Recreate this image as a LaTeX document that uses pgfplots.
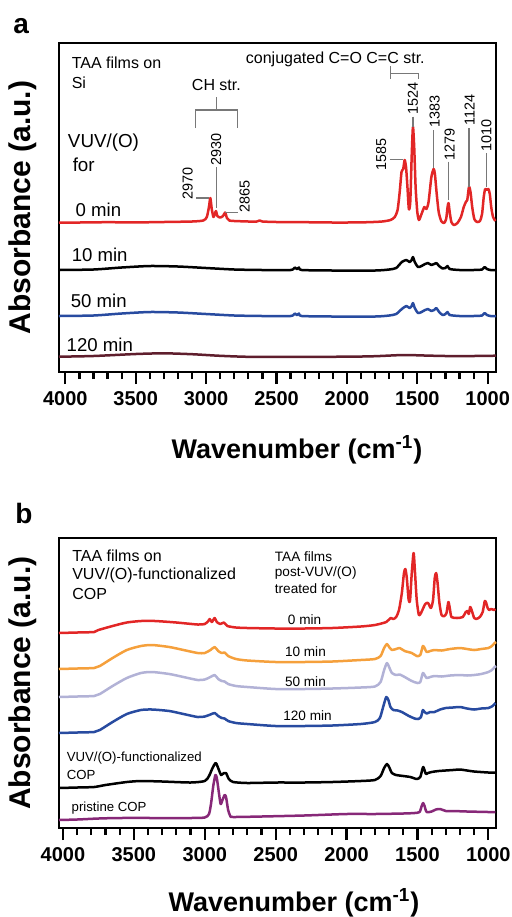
\documentclass[border=0pt]{standalone}
\usepackage{fontspec}
\setmainfont{Liberation Sans}
\usepackage{pgfplots}
\pgfplotsset{compat=1.18}

\definecolor{cred}{RGB}{226,38,38}
\definecolor{corange}{RGB}{245,160,60}
\definecolor{clav}{RGB}{178,178,214}
\definecolor{cblue}{RGB}{40,75,160}
\definecolor{cpurple}{RGB}{135,40,120}
\definecolor{cmaroon}{RGB}{95,30,45}
\definecolor{annot}{RGB}{120,120,120}

\newcommand{\fsz}[1]{\fontsize{#1}{#1}\selectfont}

\pgfplotsset{
  spec/.style={
    scale only axis, x dir=reverse, ymin=0, clip=false,
    axis line style={line width=1pt},
    xtick={1000,1500,...,4000}, minor x tick num=4,
    xtick pos=bottom, ytick=\empty, tick align=outside,
    major tick length=6pt, minor tick length=3.5pt,
    tick style={line width=1.1pt, black},
    /pgf/number format/assume math mode=true,
    /pgf/number format/1000 sep={},
    xticklabel style={font=\fsz{10}\bfseries},
    every axis plot/.append style={line width=1.25pt, line join=round, smooth, tension=0.4},
  },
}

\begin{document}
\begin{tikzpicture}
\useasboundingbox (0,0) rectangle (256pt,-458.5pt);

% ---------------- panel a ----------------
\begin{axis}[spec, at={(29.5pt,-186pt)}, anchor=south west,
  width=218.5pt, height=164.5pt, xmin=941, xmax=4045, ymax=329]

\addplot[cred] coordinates {
(4045,149.3)(3900,149.5)(3700,149.8)(3500,149.6)(3300,150)(3100,150.5)(3020,151.5)
(2995,155)(2980,165)(2970,174)(2960,163)(2948,155)(2938,158)(2930,161)(2920,156)
(2900,154.5)(2880,156)(2865,159.5)(2852,154)(2835,151.5)(2800,151)(2700,150.5)
(2640,150.5)(2620,151.5)(2600,150.5)(2500,150)(2300,149.8)(2100,149.5)(2000,149.5)
(1850,149.8)(1750,150.5)(1690,152)(1660,155)(1640,162)(1625,180)(1612,200)(1600,203)
(1590,212)(1580,205)(1570,185)(1560,163)(1550,170)(1540,215)(1531,245)(1522,225)
(1512,185)(1500,160)(1488,152)(1470,158)(1450,165)(1435,163)(1420,170)(1400,195)
(1384,203)(1375,198)(1362,178)(1348,160)(1330,151)(1310,149)(1295,153)(1285,165)
(1278,169)(1270,160)(1258,150)(1240,147)(1215,149)(1190,155)(1170,165)(1155,170)
(1145,172)(1133,185)(1122,180)(1110,165)(1095,153)(1075,150)(1055,151)(1040,158)
(1028,175)(1018,183)(1005,182)(995,183)(985,178)(975,165)(962,155)(945,151)};

\addplot[black] coordinates {
(4045,102)(3800,102.5)(3600,104.5)(3400,106)(3200,105.5)(3000,104)(2800,102.5)
(2600,102)(2400,102)(2370,104.5)(2355,103)(2340,104.5)(2320,102)(2100,101.5)
(1800,101.5)(1700,102.5)(1650,104)(1610,110)(1578,112)(1555,110)(1540,112)
(1531,115)(1518,110)(1495,105)(1470,106)(1445,108)(1425,109)(1400,107)(1380,108)
(1365,109)(1345,106)(1320,103.5)(1300,104)(1285,106)(1270,103)(1200,102)(1100,102)
(1040,102.5)(1022,105)(1005,103)(980,102)(941,102)};

\addplot[cblue] coordinates {
(4045,56)(3800,56.5)(3600,58.5)(3400,60)(3200,59.5)(3000,58)(2800,56.5)(2600,56)
(2400,56)(2370,58.5)(2355,57)(2340,58.5)(2320,56)(2100,55.5)(1800,55.5)(1700,56.5)
(1650,58)(1610,63)(1578,66)(1555,64)(1540,66)(1531,69)(1518,64)(1495,59)(1470,60)
(1445,62)(1425,63)(1400,61)(1380,62)(1365,64)(1345,60)(1320,57)(1300,58)(1285,60)
(1270,57)(1200,56)(1100,56)(1040,56.5)(1022,59)(1005,57)(980,56)(941,56)};

\addplot[cmaroon] coordinates {
(4045,15.3)(3800,16)(3500,18)(3300,18.7)(3100,17.8)(2900,16.2)(2700,15.2)(2400,15.2)
(2000,15.3)(1800,15.8)(1600,17)(1450,16.5)(1300,16)(1100,16)(941,16.3)};

% annotations
\begin{scope}[annot, line width=0.6pt]
\draw (3069,174) -- (2976,174);
\draw (2927,205) -- (2927,164);
\draw (2863,159.3) -- (2775,159.3);
\draw (3076,244) -- (3076,262) -- (2777,262) -- (2777,244);
\draw (2927,262) -- (2927,275);
\draw (1690,306) -- (1690,293);
\draw (1690,298.5) -- (1490,298.5) -- (1490,293);
\draw (1697,212.7) -- (1602,212.7);
\draw (1531,255.3) -- (1531,244.7);
\draw (1384,242) -- (1384,203.7);
\draw (1277,210.3) -- (1277,172);
\draw (1133,243.7) -- (1133,185.3);
\draw (1009,218.7) -- (1009,185.3);
\end{scope}
\begin{scope}[every node/.style={rotate=90, font=\fsz{7.2}, inner sep=0pt}]
\node at (3131,188.7) {2970};
\node at (2929,223) {2930};
\node at (2727,175.3) {2865};
\node at (1756,218) {1585};
\node at (1531,273.7) {1524};
\node at (1377,260.3) {1383};
\node at (1270,228) {1279};
\node at (1128,262) {1124};
\node at (1009,237) {1010};
\end{scope}
\node[font=\fsz{8}] at (2927,287) {CH str.};
\node[font=\fsz{8}, anchor=west, inner sep=0pt] at (2720,313) {conjugated C=O C=C str.};
\node[font=\fsz{8}, anchor=west, inner sep=0pt] at (3957,309) {TAA films on};
\node[font=\fsz{8}, anchor=west, inner sep=0pt] at (3957,289) {Si};
\node[font=\fsz{9.4}, anchor=west, inner sep=0pt] at (3984,229) {VUV/(O)};
\node[font=\fsz{9.4}, anchor=west, inner sep=0pt] at (3950,207) {for};
\node[font=\fsz{9.3}, anchor=west, inner sep=0pt] at (3929,162) {0 min};
\node[font=\fsz{9.3}, anchor=west, inner sep=0pt] at (3957,117) {10 min};
\node[font=\fsz{9.3}, anchor=west, inner sep=0pt] at (3964,71.3) {50 min};
\node[font=\fsz{9.3}, anchor=west, inner sep=0pt] at (3993,27) {120 min};
\end{axis}

% ---------------- panel b ----------------
\begin{axis}[spec, at={(29.5pt,-414pt)}, anchor=south west,
  width=218.5pt, height=145pt, xmin=946, xmax=4028, ymax=290]

\addplot[cred] coordinates {
(4028,195)(3900,195.5)(3780,196)(3750,198)(3650,202)(3550,205.5)(3450,207)(3350,207)
(3200,205.5)(3050,203.5)(3000,204)(2975,207)(2965,209)(2950,206)(2930,210)(2915,206)
(2890,204)(2865,205.5)(2840,202)(2780,200.5)(2700,200)(2500,199.5)(2300,199.5)
(2100,200)(1900,201.5)(1800,203)(1720,206)(1690,210)(1670,209)(1650,211)(1630,218)
(1610,235)(1595,255)(1585,259)(1575,250)(1562,228)(1552,228)(1540,255)(1527,275)
(1517,255)(1505,228)(1490,213)(1475,215)(1445,224)(1425,225)(1405,220)(1390,228)
(1378,250)(1368,255)(1358,245)(1345,225)(1330,213)(1310,212)(1295,215)(1282,226)
(1272,220)(1260,211)(1220,210)(1180,211)(1160,216)(1148,217)(1138,214)(1128,221)
(1118,218)(1100,210)(1085,209)(1060,211)(1040,216)(1025,227)(1015,225)(1005,220)
(995,218)(980,219)(960,218)(950,219)};

\addplot[corange] coordinates {
(4028,159)(3900,159.5)(3780,160)(3740,162)(3650,170)(3550,178)(3450,182)(3370,183)
(3250,181)(3150,178)(3050,175)(3000,175)(2960,178)(2930,181)(2905,177)(2880,175)
(2860,175.5)(2835,172)(2780,169)(2700,167.5)(2500,166)(2300,166)(2100,166.5)
(1900,168)(1800,169)(1760,172)(1735,180)(1715,184)(1695,180)(1680,178)(1650,179)
(1625,180)(1590,177)(1540,175)(1505,172)(1480,173)(1462,182)(1450,180)(1435,176)
(1410,177)(1380,178)(1330,177.5)(1270,179)(1200,180)(1150,179)(1100,178)(1050,179)
(1000,180)(975,182)(955,185)(946,186)};

\addplot[clav] coordinates {
(4028,131)(3900,131.5)(3780,132)(3740,134)(3650,142)(3550,150)(3450,155)(3370,156)
(3250,154)(3150,151)(3050,148)(3000,148.5)(2960,151)(2930,153)(2905,149)(2880,147)
(2860,146.5)(2835,144)(2780,142)(2700,141)(2500,139)(2300,139)(2100,139.5)
(1900,140.5)(1800,141.5)(1760,146)(1735,158)(1715,165)(1700,161)(1680,155)(1650,153)
(1625,153.5)(1590,151)(1540,147)(1500,145)(1480,146)(1462,155)(1450,153)(1435,150)
(1410,151)(1380,152)(1330,151.5)(1270,152.5)(1200,153)(1150,152.5)(1100,153)
(1050,154)(1000,156)(975,158)(955,161)(946,162)};

\addplot[cblue] coordinates {
(4028,95)(3900,95.5)(3780,96)(3740,98)(3650,106)(3550,114)(3450,118)(3370,118.5)
(3250,117)(3150,114)(3050,111)(3000,111.5)(2960,113.5)(2930,115)(2905,112)(2880,110)
(2860,109.5)(2835,107)(2780,105)(2700,104)(2500,102)(2300,102)(2100,102.5)(1900,104)
(1800,106)(1765,110)(1740,122)(1720,131)(1705,128)(1690,121)(1670,118)(1640,117.5)
(1610,116)(1560,112)(1520,109.5)(1495,109)(1475,111)(1462,118)(1450,116)(1435,114.5)
(1410,116)(1380,116)(1340,118.5)(1300,120)(1250,120.5)(1200,121)(1150,119.5)
(1100,118.5)(1050,119.5)(1000,120)(970,122)(950,125)};

\addplot[black] coordinates {
(4028,40)(3900,40.5)(3780,41)(3700,43)(3550,46)(3450,47)(3300,46.5)(3100,45.5)
(3000,47)(2970,52)(2945,60)(2922,65)(2900,58)(2885,53)(2865,55)(2850,55)(2830,49)
(2800,46)(2700,45)(2500,45.5)(2300,45.5)(2100,46)(1900,47)(1800,48)(1760,52)
(1735,60)(1715,64)(1700,61)(1680,55)(1650,53)(1600,52)(1550,51)(1505,49)(1480,51)
(1465,59)(1458,61)(1448,57)(1440,54)(1425,55)(1400,56)(1350,57)(1250,58)(1200,58.5)
(1150,57.5)(1100,56.5)(1000,55.5)(950,55.5)};

\addplot[cpurple] coordinates {
(4028,8)(3900,8.5)(3750,9.5)(3600,10)(3300,10)(3100,10)(3000,10.5)(2970,14)(2955,25)
(2940,42)(2925,53)(2915,50)(2900,35)(2888,24)(2875,28)(2860,33)(2850,31)(2835,18)
(2820,12)(2800,11)(2600,11.5)(2300,12.5)(2000,14)(1800,14)(1600,14.5)(1520,15)
(1485,16)(1470,22)(1460,25)(1450,22)(1435,16)(1400,16.5)(1370,18.5)(1340,19)
(1300,17)(1250,17)(1150,16.5)(1000,16)(950,16)};

\node[font=\fsz{8}, anchor=west, inner sep=0pt] at (3937,272) {TAA films on};
\node[font=\fsz{8}, anchor=west, inner sep=0pt] at (3937,253) {VUV/(O)-functionalized};
\node[font=\fsz{8}, anchor=west, inner sep=0pt] at (3937,234) {COP};
\node[font=\fsz{6.8}, anchor=west, inner sep=0pt] at (2508,271.3) {TAA films};
\node[font=\fsz{6.8}, anchor=west, inner sep=0pt] at (2508,254.7) {post-VUV/(O)};
\node[font=\fsz{6.8}, anchor=west, inner sep=0pt] at (2508,239.7) {treated for};
\node[font=\fsz{6.8}, inner sep=0pt] at (2296,208.7) {0 min};
\node[font=\fsz{6.8}, inner sep=0pt] at (2290,176.3) {10 min};
\node[font=\fsz{6.8}, inner sep=0pt] at (2290,146.3) {50 min};
\node[font=\fsz{6.8}, inner sep=0pt] at (2275,112.3) {120 min};
\node[font=\fsz{6.6}, anchor=west, inner sep=0pt] at (3976,69.7) {VUV/(O)-functionalized};
\node[font=\fsz{6.6}, anchor=west, inner sep=0pt] at (3976,53) {COP};
\node[font=\fsz{6.6}, anchor=west, inner sep=0pt] at (3941,19.7) {pristine COP};
\end{axis}

% outer labels
\node[font=\fsz{14}\bfseries, anchor=base west, inner sep=0pt] at (6.5pt,-16.5pt) {a};
\node[font=\fsz{14}\bfseries, anchor=base west, inner sep=0pt] at (7.5pt,-261.5pt) {b};
\node[font=\fsz{15}\bfseries, rotate=90, inner sep=0pt] at (11.5pt,-103.75pt) {Absorbance (a.u.)};
\node[font=\fsz{15}\bfseries, rotate=90, inner sep=0pt] at (11.5pt,-341.5pt) {Absorbance (a.u.)};
\node[font=\fsz{13.5}\bfseries, inner sep=0pt] at (148.5pt,-225pt) {Wavenumber (cm\textsuperscript{-1})};
\node[font=\fsz{13.5}\bfseries, inner sep=0pt] at (147pt,-451.5pt) {Wavenumber (cm\textsuperscript{-1})};
\end{tikzpicture}
\end{document}
